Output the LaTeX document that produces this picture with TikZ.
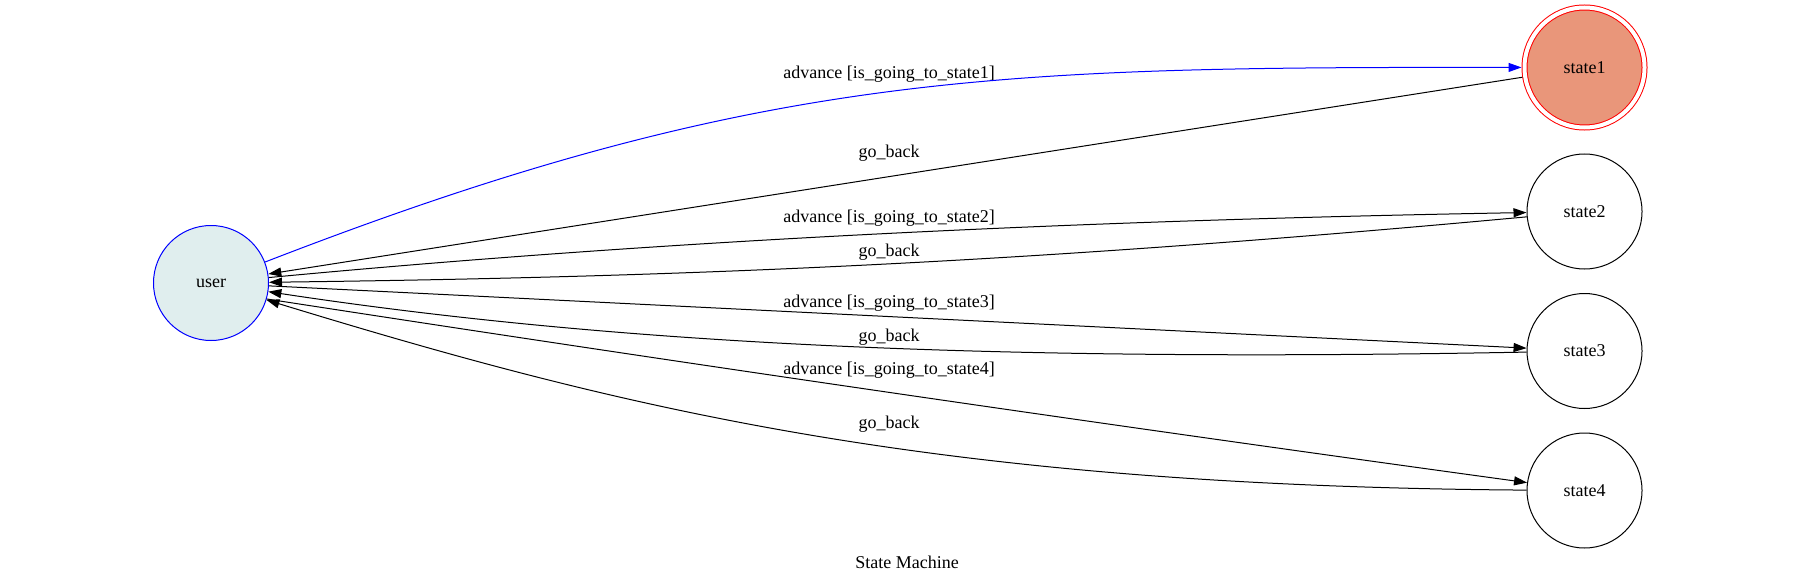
\documentclass[tikz,border=0pt]{standalone}
\usepackage{fontspec}
\setmainfont{Liberation Serif}
\usepackage{tikz}
\usetikzlibrary{arrows.meta,positioning}
\definecolor{userfill}{RGB}{224,238,238}
\definecolor{finalfill}{RGB}{233,150,122}
\definecolor{edgeblue}{RGB}{0,0,255}

\begin{document}
\begin{tikzpicture}[
    x=1pt, y=-1pt,
    state/.style={circle, draw, line width=1pt, minimum size=115pt, inner sep=0pt, font=\fontsize{18}{21}\selectfont},
    lbl/.style={inner sep=1pt, font=\fontsize{18}{21}\selectfont},
    arrow/.style={-{Triangle[length=13pt, width=9pt]}, line width=1pt}
]
\useasboundingbox (0,0) rectangle (1815,583);

\node[state, draw=edgeblue, fill=userfill] (user) at (211,283) {user};
\node[state, draw=red, fill=finalfill, double=white, double distance=4pt, minimum size=120pt, outer sep=3pt] (state1) at (1584.5,67.5) {state1};
\foreach \i/\y in {2/211.5, 3/351, 4/490.5} {
    \node[state] (state\i) at (1584.5,\y) {state\i};
}

% Edge labels
\node[lbl] (adv1) at (889,74) {advance [is\_going\_to\_state1]};
\node[lbl] (back1) at (889,153) {go\_back};
\node[lbl] (adv2) at (889,218) {advance [is\_going\_to\_state2]};
\node[lbl] (back2) at (889,252) {go\_back};
\node[lbl] (adv3) at (889,303) {advance [is\_going\_to\_state3]};
\node[lbl] (back3) at (889,337) {go\_back};
\node[lbl] (adv4) at (889,370) {advance [is\_going\_to\_state4]};
\node[lbl] (back4) at (889,424) {go\_back};

% Transitions
\draw[arrow, edgeblue] (user) .. controls (760,70) and (1000,67) .. (state1);
\draw[arrow] (state1) -- (user);
\draw[arrow] (user) .. controls (688,238) and (1107,220) .. (state2);
\draw[arrow] (state2) .. controls (1027,263) and (688,277) .. (user);
\draw[arrow] (user) -- (state3);
\draw[arrow] (state3) .. controls (1000,362) and (620,345) .. (user);
\draw[arrow] (user.-16) .. controls (688,364) and (1107,425) .. (state4);
\draw[arrow] (state4) .. controls (927,486) and (617,407) .. (user);

\node[lbl] (title) at (907,562) {State Machine};
\end{tikzpicture}
\end{document}
